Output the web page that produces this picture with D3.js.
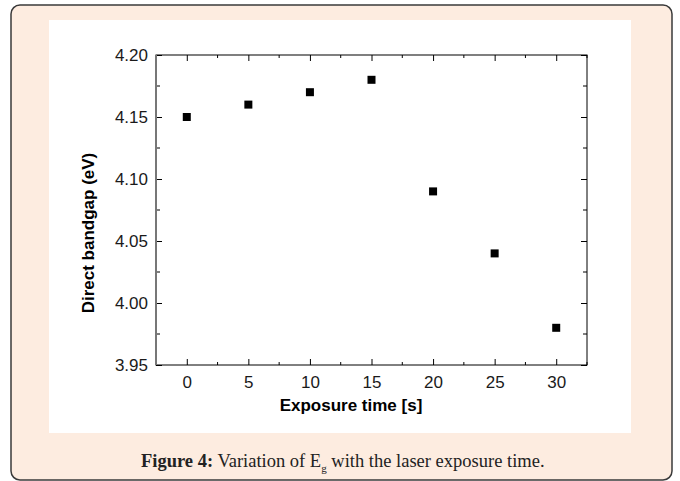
<!DOCTYPE html>
<html>
<head>
<meta charset="utf-8">
<script src="https://cdn.jsdelivr.net/npm/d3@7"></script>
<style>
  body { margin: 0; background: #fff; }
  svg { display: block; }
</style>
</head>
<body>
<div id="chart"></div>
<script>
// data
var exposureTime = [0, 5, 10, 15, 20, 25, 30];
var bandgap = [4.15, 4.16, 4.17, 4.18, 4.09, 4.04, 3.98];
var xTicks = [0, 5, 10, 15, 20, 25, 30];
var yTicks = [3.95, 4.00, 4.05, 4.10, 4.15, 4.20];

var W = 680, H = 481;
var plot = {left: 156, top: 55, right: 587, bottom: 365};
var SANS = "'Liberation Sans', Arial, sans-serif";
var SERIF = "'Liberation Serif', 'Times New Roman', serif";

var svg = d3.select("#chart").append("svg")
    .attr("width", W)
    .attr("height", H);

// card frame
svg.append("rect")
    .attr("x", 11).attr("y", 5)
    .attr("width", 661).attr("height", 475)
    .attr("rx", 9).attr("ry", 9)
    .attr("fill", "#fdece0")
    .attr("stroke", "#3a3a3a")
    .attr("stroke-width", 1.5);

// white figure panel
svg.append("rect")
    .attr("x", 49).attr("y", 20)
    .attr("width", 582).attr("height", 413)
    .attr("fill", "#fff");

var xScale = d3.scaleLinear().domain([-2.5, 32.5]).range([plot.left, plot.right]);
var yScale = d3.scaleLinear().domain([3.95, 4.20]).range([plot.bottom, plot.top]);

var g = svg.append("g");
var minorX = d3.range(-2.5, 33, 2.5).filter(function(d) { return xTicks.indexOf(d) < 0; });
var minorY = d3.range(3.975, 4.2, 0.05);

// inward ticks on all four sides
var xBottom = d3.axisBottom(xScale).tickValues(xTicks).tickSize(-6).tickFormat(d3.format("d")).tickPadding(11);
var xTop = d3.axisTop(xScale).tickValues(xTicks).tickSize(-6).tickFormat("");
var yLeft = d3.axisLeft(yScale).tickValues(yTicks).tickSize(-6).tickFormat(d3.format(".2f")).tickPadding(8);
var yRight = d3.axisRight(yScale).tickValues(yTicks).tickSize(-6).tickFormat("");

function styleAxis(sel) {
  sel.select(".domain").remove();
  sel.selectAll("line").attr("stroke", "#000").attr("stroke-width", 1);
  sel.selectAll("text").attr("fill", "#1a1a1a")
      .style("font-family", SANS)
      .style("font-size", "17px");
}

g.append("g").attr("transform", "translate(0," + plot.bottom + ")").call(xBottom).call(styleAxis);
g.append("g").attr("transform", "translate(0," + plot.top + ")").call(xTop).call(styleAxis);
g.append("g").attr("transform", "translate(" + plot.left + ",0)").call(yLeft).call(styleAxis);
g.append("g").attr("transform", "translate(" + plot.right + ",0)").call(yRight).call(styleAxis);

// minor ticks
g.selectAll(".mxb").data(minorX).enter().append("line")
    .attr("x1", xScale).attr("x2", xScale)
    .attr("y1", plot.bottom).attr("y2", plot.bottom - 3)
    .attr("stroke", "#000");
g.selectAll(".mxt").data(minorX).enter().append("line")
    .attr("x1", xScale).attr("x2", xScale)
    .attr("y1", plot.top).attr("y2", plot.top + 3)
    .attr("stroke", "#000");
g.selectAll(".myl").data(minorY).enter().append("line")
    .attr("y1", yScale).attr("y2", yScale)
    .attr("x1", plot.left).attr("x2", plot.left + 4)
    .attr("stroke", "#000");
g.selectAll(".myr").data(minorY).enter().append("line")
    .attr("y1", yScale).attr("y2", yScale)
    .attr("x1", plot.right).attr("x2", plot.right - 4)
    .attr("stroke", "#000");

// plot frame
g.append("rect")
    .attr("x", plot.left).attr("y", plot.top)
    .attr("width", plot.right - plot.left).attr("height", plot.bottom - plot.top)
    .attr("fill", "none")
    .attr("stroke", "#000")
    .attr("stroke-width", 1);
g.append("line")
    .attr("x1", plot.left).attr("x2", plot.left)
    .attr("y1", plot.top).attr("y2", plot.bottom)
    .attr("stroke", "#777").attr("stroke-width", 2);

// markers
var sz = 8;
g.selectAll(".pt").data(exposureTime).enter().append("rect")
    .attr("x", function(d) { return xScale(d) - sz / 2; })
    .attr("y", function(d, i) { return yScale(bandgap[i]) - sz / 2; })
    .attr("width", sz).attr("height", sz)
    .attr("fill", "#000");

// axis titles
svg.append("text")
    .attr("x", 351).attr("y", 411)
    .attr("text-anchor", "middle")
    .style("font-family", SANS)
    .style("font-size", "17px").style("font-weight", "bold")
    .text("Exposure time [s]");

svg.append("text")
    .attr("transform", "translate(94,233) rotate(-90)")
    .attr("text-anchor", "middle")
    .style("font-family", SANS)
    .style("font-size", "17px").style("font-weight", "bold")
    .text("Direct bandgap (eV)");

// caption
var cap = svg.append("text")
    .attr("x", 141).attr("y", 467)
    .style("font-family", SERIF)
    .style("font-size", "18.5px")
    .attr("fill", "#222");
cap.append("tspan").style("font-weight", "bold").text("Figure 4:");
cap.append("tspan").text(" Variation of E");
cap.append("tspan").attr("dy", 5).style("font-size", "11px").text("g");
cap.append("tspan").attr("dy", -5).text(" with the laser exposure time.");
</script>
</body>
</html>
